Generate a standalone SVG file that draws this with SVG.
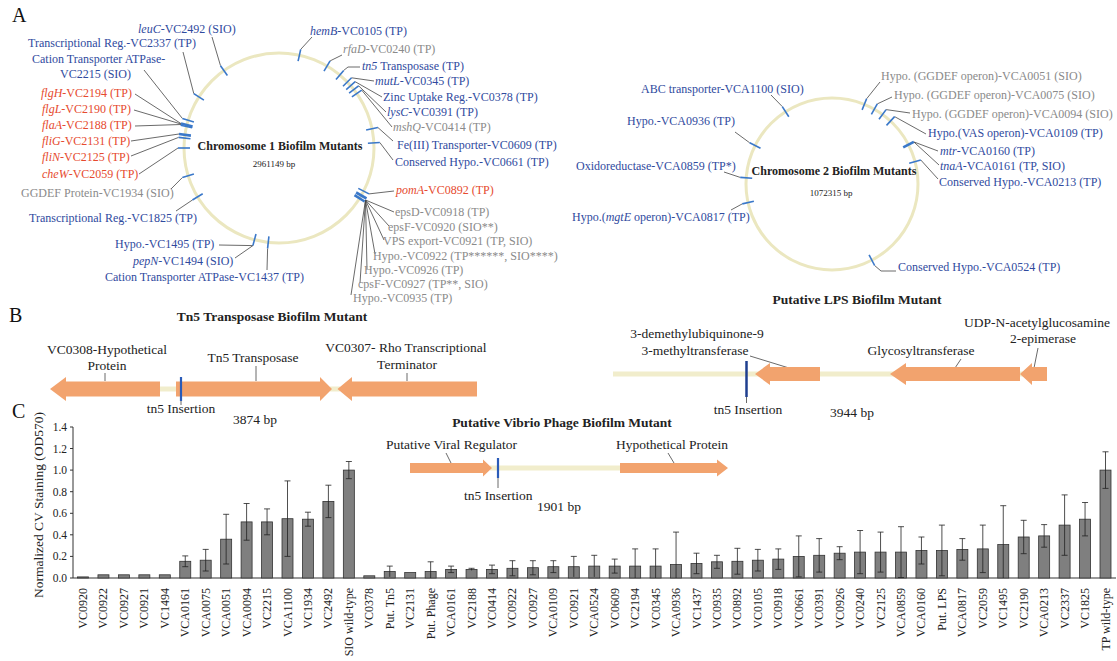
<svg xmlns="http://www.w3.org/2000/svg" width="1117" height="661" viewBox="0 0 1117 661">
<style>
text{font-family:"Liberation Serif","Times New Roman",serif;}
.l{font-size:12px}
.bl{fill:#2f4a9e}.rd{fill:#e64a2e}.gy{fill:#8a8a8a}.bk{fill:#222}
.i{font-style:italic}
.tk{stroke:#3a78c9;stroke-width:1.6;fill:none}
.tk2{stroke:#3a78c9;stroke-width:2.6;fill:none}
.ld{stroke:#444;stroke-width:0.8;fill:none}
.ring{fill:none;stroke:#ebe7c0;stroke-width:3}
.arw{fill:#f2a36e}
.bb{stroke:#f1edcc;stroke-width:5}
.ins{stroke:#2a5bb8;stroke-width:2.2}
.bar{fill:#7f7f7f;stroke:#333;stroke-width:0.8}
.eb{stroke:#222;stroke-width:0.8;fill:none}
.ax{stroke:#333;stroke-width:1;fill:none}
.xl{font-size:12px;fill:#222}
.m{font-size:13.5px;fill:#222}
.ttl{font-size:13.5px;font-weight:bold;fill:#222}
.pl{font-size:20px;fill:#111}
</style>
<rect width="1117" height="661" fill="#ffffff"/>

<!-- Panel letters -->
<text class="pl" x="12" y="22">A</text>
<text class="pl" x="9" y="322">B</text>
<text class="pl" x="12" y="418">C</text>

<!-- Chromosome 1 -->
<g id="chr1">
<circle class="ring" cx="279" cy="148" r="95"/>
<text x="280" y="150" text-anchor="middle" font-size="12" font-weight="bold" fill="#222">Chromosome 1 Biofilm Mutants</text>
<text x="274" y="167" text-anchor="middle" font-size="9" fill="#222">2961149 bp</text>
</g>

<g id="connectors">
<!-- chr1 left -->
<path class="ld" d="M220.5,65.7 L212,37"/>
<path class="ld" d="M193.8,93.7 L183,52"/>
<path class="ld" d="M182.4,118.5 L144,70"/>
<path class="ld" d="M181,123.6 L135,94"/>
<path class="ld" d="M181,124 L134,110"/>
<path class="ld" d="M181,124.5 L135,126"/>
<path class="ld" d="M179,134 L131,141"/>
<path class="ld" d="M178.6,137.4 L131,156"/>
<path class="ld" d="M178,148 L139,174"/>
<path class="ld" d="M182.4,177.5 L171,189"/>
<path class="ld" d="M192.4,200 L176,211"/>
<path class="ld" d="M252.9,245.6 L219,245"/>
<path class="ld" d="M252.9,245.6 L235,258"/>
<path class="ld" d="M267.6,248.4 L267,270"/>
<!-- chr1 right -->
<path class="ld" d="M300.7,49.4 L312,37"/>
<path class="ld" d="M330.1,60.9 L342,55"/>
<path class="ld" d="M343.7,70.4 L348,67 L360,67"/>
<path class="ld" d="M351.6,77.8 L374,81"/>
<path class="ld" d="M355.2,81.7 L382,97"/>
<path class="ld" d="M358.6,85.8 L386,112"/>
<path class="ld" d="M361.7,90.1 L392,127"/>
<path class="ld" d="M377.9,127.5 L393,141"/>
<path class="ld" d="M379.8,142.5 L393,160"/>
<path class="ld" d="M369,193.9 L394,191"/>
<path class="ld" d="M365.5,200 L394,212"/>
<path class="ld" d="M365.5,200 L389,226"/>
<path class="ld" d="M365.5,200 L384,240"/>
<path class="ld" d="M365.5,200 L375,254"/>
<path class="ld" d="M365.5,200 L367,269"/>
<path class="ld" d="M365.5,200 L360,283"/>
<path class="ld" d="M365.5,200 L351,295"/>
<!-- chr2 -->
<path class="ld" d="M782.3,106.6 L771,95"/>
<path class="ld" d="M749.7,142.8 L735,132"/>
<path class="ld" d="M740.2,177.4 L724,172"/>
<path class="ld" d="M742.2,203.9 L731,210"/>
<path class="ld" d="M866.6,98.8 L880,82"/>
<path class="ld" d="M877.3,103.9 L892,97"/>
<path class="ld" d="M886.1,109.6 L910,113"/>
<path class="ld" d="M894.6,116.6 L926,134"/>
<path class="ld" d="M913.8,141.9 L938,151"/>
<path class="ld" d="M913.8,141.9 L939,165"/>
<path class="ld" d="M920.8,160 L938,179"/>
<path class="ld" d="M874.6,265.5 L881,271 L896,271"/>
<!-- panel B/C gene leaders -->
<path class="ld" d="M105,373 V381"/>
<path class="ld" d="M256,366 V381"/>
<path class="ld" d="M407,373 V381"/>
<path class="ld" d="M181,401 V405"/>
<path class="ld" d="M750,356 L789,368"/>
<path class="ld" d="M961,359 L955,368"/>
<path class="ld" d="M1038,348 L1034,368"/>
<path class="ld" d="M746.5,397 V403"/>
<path class="ld" d="M446,453 L451,463"/>
<path class="ld" d="M668,453 L674,463"/>
<path class="ld" d="M498,478 V488"/>
</g>

<!-- chr1 left genes -->
<g id="leuC"><path class="tk" d="M227.4,75.5 L220.5,65.7"/><text class="l bl" x="138" y="33"><tspan class="i">leuC</tspan>-VC2492 (SIO)</text></g>
<g id="VC2337"><path class="tk" d="M203.9,100.2 L193.8,93.7"/><text class="l bl" x="28" y="47">Transcriptional Reg.-VC2337 (TP)</text></g>
<g id="VC2215"><path class="tk" d="M193.9,122 L182.4,118.5"/><text class="l bl" x="32" y="63">Cation Transporter ATPase-</text><text class="l bl" x="60" y="78">VC2215 (SIO)</text></g>
<g id="flgH"><path class="tk2" d="M192.6,126.5 L181,123.6"/><text class="l rd" x="41" y="97"><tspan class="i">flgH</tspan>-VC2194 (TP)</text></g>
<g id="flgL"><path class="tk" d="M192.2,127.8 L180.6,125.3"/><text class="l rd" x="42" y="113"><tspan class="i">flgL</tspan>-VC2190 (TP)</text></g>
<g id="flaA"><text class="l rd" x="42" y="129"><tspan class="i">flaA</tspan>-VC2188 (TP)</text></g>
<g id="fliG"><path class="tk2" d="M190.9,135.6 L179,134"/><text class="l rd" x="42" y="145"><tspan class="i">fliG</tspan>-VC2131 (TP)</text></g>
<g id="fliN"><path class="tk" d="M190.5,138.7 L178.6,137.4"/><text class="l rd" x="42" y="161"><tspan class="i">fliN</tspan>-VC2125 (TP)</text></g>
<g id="cheW"><path class="tk" d="M190,148 L178,148"/><text class="l rd" x="42" y="178"><tspan class="i">cheW</tspan>-VC2059 (TP)</text></g>
<g id="VC1934"><path class="tk" d="M193.9,174 L182.4,177.5"/><text class="l gy" x="21" y="197">GGDEF Protein-VC1934 (SIO)</text></g>
<g id="VC1825"><path class="tk" d="M202.7,193.8 L192.4,200"/><text class="l bl" x="29" y="222">Transcriptional Reg.-VC1825 (TP)</text></g>
<g id="VC1495"><path class="tk" d="M256,234 L252.9,245.6"/><text class="l bl" x="115" y="248">Hypo.-VC1495 (TP)</text></g>
<g id="pepN"><text class="l bl" x="133" y="265"><tspan class="i">pepN</tspan>-VC1494 (SIO)</text></g>
<g id="VC1437"><path class="tk" d="M268.9,236.4 L267.6,248.4"/><text class="l bl" x="105" y="281">Cation Transporter ATPase-VC1437 (TP)</text></g>

<!-- chr1 right genes -->
<g id="hemB"><path class="tk" d="M298.1,61.1 L300.7,49.4"/><text class="l bl" x="310" y="35"><tspan class="i">hemB</tspan>-VC0105 (TP)</text></g>
<g id="rfaD"><path class="tk" d="M324,71.2 L330.1,60.9"/><text class="l gy" x="343" y="53"><tspan class="i">rfaD</tspan>-VC0240 (TP)</text></g>
<g id="tn5"><path class="tk" d="M336,79.6 L343.7,70.4"/><text class="l bl" x="362" y="70"><tspan class="i">tn5</tspan> Transposase (TP)</text></g>
<g id="mutL"><path class="tk" d="M343,86.2 L351.6,77.8"/><text class="l bl" x="375" y="85"><tspan class="i">mutL</tspan>-VC0345 (TP)</text></g>
<g id="VC0378"><path class="tk" d="M346.2,89.6 L355.2,81.7"/><text class="l bl" x="383" y="101">Zinc Uptake Reg.-VC0378 (TP)</text></g>
<g id="lysC"><path class="tk" d="M349.1,93.2 L358.6,85.8"/><text class="l bl" x="387" y="116"><tspan class="i">lysC</tspan>-VC0391 (TP)</text></g>
<g id="mshQ"><path class="tk" d="M351.9,96.9 L361.7,90.1"/><text class="l gy" x="393" y="131"><tspan class="i">mshQ</tspan>-VC0414 (TP)</text></g>
<g id="VC0609"><path class="tk" d="M366.1,130 L377.9,127.5"/><text class="l bl" x="397" y="149">Fe(III) Transporter-VC0609 (TP)</text></g>
<g id="VC0661"><path class="tk" d="M367.9,143.2 L379.8,142.5"/><text class="l bl" x="395" y="166">Conserved Hypo.-VC0661 (TP)</text></g>
<g id="pomA"><path class="tk" d="M358.3,188.4 L369,193.9"/><text class="l rd" x="396" y="194"><tspan class="i">pomA</tspan>-VC0892 (TP)</text></g>
<g id="eps"><path class="tk2" d="M356.1,192.5 L366.5,198.5"/><path class="tk2" d="M354.5,195.2 L364.6,201.5"/>
<text class="l gy" x="395" y="216">epsD-VC0918 (TP)</text>
<text class="l gy" x="388" y="231">epsF-VC0920 (SIO**)</text>
<text class="l gy" x="383" y="245">VPS export-VC0921 (TP, SIO)</text>
<text class="l gy" x="373" y="260">Hypo.-VC0922 (TP******, SIO****)</text>
<text class="l gy" x="364" y="274">Hypo.-VC0926 (TP)</text>
<text class="l gy" x="358" y="288">cpsF-VC0927 (TP**, SIO)</text>
<text class="l gy" x="353" y="302">Hypo.-VC0935 (TP)</text></g>

<!-- Chromosome 2 -->
<g id="chr2">
<circle class="ring" cx="832" cy="184" r="86"/>
<text x="834" y="175" text-anchor="middle" font-size="12" font-weight="bold" fill="#222">Chromosome 2 Biofilm Mutants</text>
<text x="831" y="196" text-anchor="middle" font-size="9" fill="#222">1072315 bp</text>
</g>
<g id="VCA1100"><path class="tk" d="M788.8,116.7 L782.3,106.6"/><text class="l bl" x="641" y="93">ABC transporter-VCA1100 (SIO)</text></g>
<g id="VCA0936"><path class="tk" d="M760.5,148.2 L749.7,142.8"/><text class="l bl" x="627" y="125">Hypo.-VCA0936 (TP)</text></g>
<g id="VCA0859"><path class="tk" d="M752.2,178.3 L740.2,177.4"/><text class="l bl" x="576" y="170">Oxidoreductase-VCA0859 (TP*)</text></g>
<g id="VCA0817"><path class="tk" d="M753.9,201.3 L742.2,203.9"/><text class="l bl" x="572" y="221">Hypo.(<tspan class="i">mgtE</tspan> operon)-VCA0817 (TP)</text></g>
<g id="VCA0051"><path class="tk" d="M862.1,109.9 L866.6,98.8"/><text class="l gy" x="881" y="80">Hypo. (GGDEF operon)-VCA0051 (SIO)</text></g>
<g id="VCA0075"><path class="tk" d="M871.4,114.4 L877.3,103.9"/><text class="l gy" x="894" y="99">Hypo. (GGDEF operon)-VCA0075 (SIO)</text></g>
<g id="VCA0094"><path class="tk" d="M879,119.3 L886.1,109.6"/><text class="l gy" x="912" y="118">Hypo. (GGDEF operon)-VCA0094 (SIO)</text></g>
<g id="VCA0109"><path class="tk" d="M886.5,125.4 L894.6,116.6"/><text class="l bl" x="928" y="137">Hypo.(VAS operon)-VCA0109 (TP)</text></g>
<g id="mtr"><path class="tk2" d="M903.2,147.4 L913.8,141.9"/><text class="l bl" x="940" y="155"><tspan class="i">mtr</tspan>-VCA0160 (TP)</text></g>
<g id="tnaA"><text class="l bl" x="940" y="170"><tspan class="i">tnaA</tspan>-VCA0161 (TP, SIO)</text></g>
<g id="VCA0213"><path class="tk" d="M909.2,163.2 L920.8,160"/><text class="l bl" x="939" y="186">Conserved Hypo.-VCA0213 (TP)</text></g>
<g id="VCA0524"><path class="tk" d="M869.1,254.9 L874.6,265.5"/><text class="l bl" x="898" y="271">Conserved Hypo.-VCA0524 (TP)</text></g>

<!-- Panel B: Tn5 -->
<g id="tn5-map">
<text class="ttl" x="272" y="321" text-anchor="middle">Tn5 Transposase Biofilm Mutant</text>
<line class="bb" x1="158" y1="389" x2="178" y2="389"/>
<line class="bb" x1="330" y1="389" x2="340" y2="389"/>
<polygon class="arw" points="50,389 66,377 66,381.5 160,381.5 160,396.5 66,396.5 66,401"/>
<polygon class="arw" points="176,381.5 320,381.5 320,377 332,389 320,401 320,396.5 176,396.5"/>
<polygon class="arw" points="337.5,389 352,377 352,381.5 477,381.5 477,396.5 352,396.5 352,401"/>
<line class="ins" x1="181" y1="377" x2="181" y2="401"/>
<text class="m" x="107" y="354" text-anchor="middle">VC0308-Hypothetical</text>
<text class="m" x="107" y="370" text-anchor="middle">Protein</text>
<text class="m" x="253" y="362" text-anchor="middle">Tn5 Transposase</text>
<text class="m" x="406" y="352" text-anchor="middle">VC0307- Rho Transcriptional</text>
<text class="m" x="407" y="369" text-anchor="middle">Terminator</text>
<text class="m" x="181" y="413" text-anchor="middle">tn5 Insertion</text>
<text class="m" x="233" y="424">3874 bp</text>
</g>

<!-- Panel B: LPS -->
<g id="lps-map">
<text class="ttl" x="857" y="304" text-anchor="middle">Putative LPS Biofilm Mutant</text>
<line class="bb" x1="613" y1="374" x2="1047" y2="374"/>
<polygon class="arw" points="755,374 770,363 770,367 820,367 820,381 770,381 770,385"/>
<polygon class="arw" points="890,374 906,363 906,367 1020,367 1020,381 906,381 906,385"/>
<polygon class="arw" points="1020,374 1032,363 1032,367 1047,367 1047,381 1032,381 1032,385"/>
<line x1="746.5" y1="361" x2="746.5" y2="397" stroke="#1f3f8f" stroke-width="2.5"/>
<text class="m" x="1037" y="327" text-anchor="middle">UDP-N-acetylglucosamine</text>
<text class="m" x="1043" y="343" text-anchor="middle">2-epimerase</text>
<text class="m" x="697" y="338" text-anchor="middle">3-demethylubiquinone-9</text>
<text class="m" x="695" y="355" text-anchor="middle">3-methyltransferase</text>
<text class="m" x="921" y="355" text-anchor="middle">Glycosyltransferase</text>
<text class="m" x="748" y="414" text-anchor="middle">tn5 Insertion</text>
<text class="m" x="830" y="417">3944 bp</text>
</g>

<!-- Panel C: phage -->
<g id="phage-map">
<text class="ttl" x="562" y="427" text-anchor="middle">Putative Vibrio Phage Biofilm Mutant</text>
<line class="bb" x1="490" y1="468" x2="622" y2="468"/>
<polygon class="arw" points="410,463 483,463 483,459.5 492,468 483,476.5 483,473 410,473"/>
<polygon class="arw" points="620,463 717,463 717,459.5 728,468 717,476.5 717,473 620,473"/>
<line class="ins" x1="498" y1="458" x2="498" y2="478"/>
<text class="m" x="386" y="449">Putative Viral Regulator</text>
<text class="m" x="616" y="449">Hypothetical Protein</text>
<text class="m" x="464" y="500">tn5 Insertion</text>
<text class="m" x="537" y="511">1901 bp</text>
</g>

<!-- Panel C: chart -->
<g id="chart">
<text transform="translate(42.5,505) rotate(-90)" text-anchor="middle" font-size="13.5" fill="#222">Normalized CV Staining (OD570)</text>
<path class="ax" d="M73,427 V578 H1116"/>
<path class="ax" d="M70,578 H73 M70,556.4 H73 M70,534.8 H73 M70,513.3 H73 M70,491.7 H73 M70,470.1 H73 M70,448.5 H73 M70,427 H73"/>
<g font-size="11.5" fill="#222" text-anchor="end">
<text x="67" y="582">0.0</text><text x="67" y="560.4">0.2</text><text x="67" y="538.8">0.4</text><text x="67" y="517.3">0.6</text><text x="67" y="495.7">0.8</text><text x="67" y="474.1">1.0</text><text x="67" y="452.5">1.2</text><text x="67" y="431">1.4</text>
</g>
<g id="bars">
<rect class="bar" x="77.5" y="576.9" width="11" height="1.1"/>
<rect class="bar" x="97.95" y="574.8" width="11" height="3.2"/>
<rect class="bar" x="118.4" y="574.8" width="11" height="3.2"/>
<rect class="bar" x="138.85" y="574.8" width="11" height="3.2"/>
<rect class="bar" x="159.3" y="574.8" width="11" height="3.2"/>
<rect class="bar" x="179.75" y="561.3" width="11" height="16.7"/>
<rect class="bar" x="200.2" y="560.2" width="11" height="17.8"/>
<rect class="bar" x="220.65" y="539.2" width="11" height="38.8"/>
<rect class="bar" x="241.1" y="521.9" width="11" height="56.1"/>
<rect class="bar" x="261.55" y="521.9" width="11" height="56.1"/>
<rect class="bar" x="282" y="518.7" width="11" height="59.3"/>
<rect class="bar" x="302.45" y="519.2" width="11" height="58.8"/>
<rect class="bar" x="322.9" y="501.4" width="11" height="76.6"/>
<rect class="bar" x="343.35" y="470.1" width="11" height="107.9"/>
<rect class="bar" x="363.8" y="575.8" width="11" height="2.2"/>
<rect class="bar" x="384.25" y="571.5" width="11" height="6.5"/>
<rect class="bar" x="404.7" y="572.6" width="11" height="5.4"/>
<rect class="bar" x="425.15" y="571.5" width="11" height="6.5"/>
<rect class="bar" x="445.6" y="569.4" width="11" height="8.6"/>
<rect class="bar" x="466.05" y="569.4" width="11" height="8.6"/>
<rect class="bar" x="486.5" y="569.4" width="11" height="8.6"/>
<rect class="bar" x="506.95" y="568.3" width="11" height="9.7"/>
<rect class="bar" x="527.4" y="567.7" width="11" height="10.3"/>
<rect class="bar" x="547.85" y="566.7" width="11" height="11.3"/>
<rect class="bar" x="568.3" y="566.7" width="11" height="11.3"/>
<rect class="bar" x="588.75" y="566.1" width="11" height="11.9"/>
<rect class="bar" x="609.2" y="566.1" width="11" height="11.9"/>
<rect class="bar" x="629.65" y="566.1" width="11" height="11.9"/>
<rect class="bar" x="650.1" y="566.1" width="11" height="11.9"/>
<rect class="bar" x="670.55" y="564.5" width="11" height="13.5"/>
<rect class="bar" x="691" y="563.4" width="11" height="14.6"/>
<rect class="bar" x="711.45" y="561.8" width="11" height="16.2"/>
<rect class="bar" x="731.9" y="561.3" width="11" height="16.7"/>
<rect class="bar" x="752.35" y="560.2" width="11" height="17.8"/>
<rect class="bar" x="772.8" y="559.1" width="11" height="18.9"/>
<rect class="bar" x="793.25" y="556.4" width="11" height="21.6"/>
<rect class="bar" x="813.7" y="555.3" width="11" height="22.7"/>
<rect class="bar" x="834.15" y="553.2" width="11" height="24.8"/>
<rect class="bar" x="854.6" y="552.1" width="11" height="25.9"/>
<rect class="bar" x="875.05" y="552.1" width="11" height="25.9"/>
<rect class="bar" x="895.5" y="552.1" width="11" height="25.9"/>
<rect class="bar" x="915.95" y="550.5" width="11" height="27.5"/>
<rect class="bar" x="936.4" y="550.5" width="11" height="27.5"/>
<rect class="bar" x="956.85" y="549.4" width="11" height="28.6"/>
<rect class="bar" x="977.3" y="548.9" width="11" height="29.1"/>
<rect class="bar" x="997.75" y="544.6" width="11" height="33.4"/>
<rect class="bar" x="1018.2" y="537" width="11" height="41"/>
<rect class="bar" x="1038.65" y="535.9" width="11" height="42.1"/>
<rect class="bar" x="1059.1" y="525.1" width="11" height="52.9"/>
<rect class="bar" x="1079.55" y="519.2" width="11" height="58.8"/>
<rect class="bar" x="1100" y="470.1" width="11" height="107.9"/>
</g>
<path class="eb" d="
M185.25,555.9V566.7M182.25,555.9H188.25M182.25,566.7H188.25
M205.7,549.4V571M202.7,549.4H208.7M202.7,571H208.7
M226.15,514.3V564M223.15,514.3H229.15M223.15,564H229.15
M246.6,503.5V540.2M243.6,503.5H249.6M243.6,540.2H249.6
M267.05,508.9V534.8M264.05,508.9H270.05M264.05,534.8H270.05
M287.5,480.9V556.4M284.5,480.9H290.5M284.5,556.4H290.5
M307.95,512.2V526.2M304.95,512.2H310.95M304.95,526.2H310.95
M328.4,485.2V517.6M325.4,485.2H331.4M325.4,517.6H331.4
M348.85,461.5V478.7M345.85,461.5H351.85M345.85,478.7H351.85
M389.75,566.1V576.9M386.75,566.1H392.75
M430.65,561.8V578M427.65,561.8H433.65
M451.1,566.1V572.6M448.1,566.1H454.1M448.1,572.6H454.1
M471.55,568.3V570.4M468.55,568.3H474.55
M492,565.1V573.7M489,565.1H495M489,573.7H495
M512.45,560.7V575.8M509.45,560.7H515.45M509.45,575.8H515.45
M532.9,560.7V574.8M529.9,560.7H535.9M529.9,574.8H535.9
M553.35,560.7V572.6M550.35,560.7H556.35M550.35,572.6H556.35
M573.8,556.4V576.9M570.8,556.4H576.8
M594.25,555.3V576.9M591.25,555.3H597.25
M614.7,559.1V573.1M611.7,559.1H617.7M611.7,573.1H617.7
M635.15,548.9V578M632.15,548.9H638.15
M655.6,548.9V578M652.6,548.9H658.6
M676.05,532.1V578M673.05,532.1H679.05
M696.5,553.2V573.7M693.5,553.2H699.5M693.5,573.7H699.5
M716.95,555.3V568.3M713.95,555.3H719.95M713.95,568.3H719.95
M737.4,548.3V574.2M734.4,548.3H740.4M734.4,574.2H740.4
M757.85,549.4V571M754.85,549.4H760.85M754.85,571H760.85
M778.3,548.9V569.4M775.3,548.9H781.3M775.3,569.4H781.3
M798.75,535.9V576.9M795.75,535.9H801.75M795.75,576.9H801.75
M819.2,538.6V572.1M816.2,538.6H822.2M816.2,572.1H822.2
M839.65,546.7V559.7M836.65,546.7H842.65M836.65,559.7H842.65
M860.1,530.5V573.7M857.1,530.5H863.1M857.1,573.7H863.1
M880.55,532.1V572.1M877.55,532.1H883.55M877.55,572.1H883.55
M901,526.7V577.5M898,526.7H904M898,577.5H904
M921.45,537V564M918.45,537H924.45M918.45,564H924.45
M941.9,525.1V575.8M938.9,525.1H944.9M938.9,575.8H944.9
M962.35,538.6V560.2M959.35,538.6H965.35M959.35,560.2H965.35
M982.8,525.1V572.6M979.8,525.1H985.8M979.8,572.6H985.8
M1003.25,505.7V578M1000.25,505.7H1006.25
M1023.7,520.3V553.7M1020.7,520.3H1026.7M1020.7,553.7H1026.7
M1044.15,524.6V547.2M1041.15,524.6H1047.15M1041.15,547.2H1047.15
M1064.6,494.9V555.3M1061.6,494.9H1067.6M1061.6,555.3H1067.6
M1085.05,502.5V535.9M1082.05,502.5H1088.05M1082.05,535.9H1088.05
M1105.5,451.8V488.4M1102.5,451.8H1108.5M1102.5,488.4H1108.5"/>
<g class="xl" text-anchor="end">
<text transform="translate(87,588) rotate(-90)">VC0920</text>
<text transform="translate(107.45,588) rotate(-90)">VC0922</text>
<text transform="translate(127.9,588) rotate(-90)">VC0927</text>
<text transform="translate(148.35,588) rotate(-90)">VC0921</text>
<text transform="translate(168.8,588) rotate(-90)">VC1494</text>
<text transform="translate(189.25,588) rotate(-90)">VCA0161</text>
<text transform="translate(209.7,588) rotate(-90)">VCA0075</text>
<text transform="translate(230.15,588) rotate(-90)">VCA0051</text>
<text transform="translate(250.6,588) rotate(-90)">VCA0094</text>
<text transform="translate(271.05,588) rotate(-90)">VC2215</text>
<text transform="translate(291.5,588) rotate(-90)">VCA1100</text>
<text transform="translate(311.95,588) rotate(-90)">VC1934</text>
<text transform="translate(332.4,588) rotate(-90)">VC2492</text>
<text transform="translate(352.85,588) rotate(-90)">SIO wild-type</text>
<text transform="translate(373.3,588) rotate(-90)">VC0378</text>
<text transform="translate(393.75,588) rotate(-90)">Put. Tn5</text>
<text transform="translate(414.2,588) rotate(-90)">VC2131</text>
<text transform="translate(434.65,588) rotate(-90)">Put. Phage</text>
<text transform="translate(455.1,588) rotate(-90)">VCA0161</text>
<text transform="translate(475.55,588) rotate(-90)">VC2188</text>
<text transform="translate(496,588) rotate(-90)">VC0414</text>
<text transform="translate(516.45,588) rotate(-90)">VC0922</text>
<text transform="translate(536.9,588) rotate(-90)">VC0927</text>
<text transform="translate(557.35,588) rotate(-90)">VCA0109</text>
<text transform="translate(577.8,588) rotate(-90)">VC0921</text>
<text transform="translate(598.25,588) rotate(-90)">VCA0524</text>
<text transform="translate(618.7,588) rotate(-90)">VC0609</text>
<text transform="translate(639.15,588) rotate(-90)">VC2194</text>
<text transform="translate(659.6,588) rotate(-90)">VC0345</text>
<text transform="translate(680.05,588) rotate(-90)">VCA0936</text>
<text transform="translate(700.5,588) rotate(-90)">VC1437</text>
<text transform="translate(720.95,588) rotate(-90)">VC0935</text>
<text transform="translate(741.4,588) rotate(-90)">VC0892</text>
<text transform="translate(761.85,588) rotate(-90)">VC0105</text>
<text transform="translate(782.3,588) rotate(-90)">VC0918</text>
<text transform="translate(802.75,588) rotate(-90)">VC0661</text>
<text transform="translate(823.2,588) rotate(-90)">VC0391</text>
<text transform="translate(843.65,588) rotate(-90)">VC0926</text>
<text transform="translate(864.1,588) rotate(-90)">VC0240</text>
<text transform="translate(884.55,588) rotate(-90)">VC2125</text>
<text transform="translate(905,588) rotate(-90)">VCA0859</text>
<text transform="translate(925.45,588) rotate(-90)">VCA0160</text>
<text transform="translate(945.9,588) rotate(-90)">Put. LPS</text>
<text transform="translate(966.35,588) rotate(-90)">VCA0817</text>
<text transform="translate(986.8,588) rotate(-90)">VC2059</text>
<text transform="translate(1007.25,588) rotate(-90)">VC1495</text>
<text transform="translate(1027.7,588) rotate(-90)">VC2190</text>
<text transform="translate(1048.15,588) rotate(-90)">VCA0213</text>
<text transform="translate(1068.6,588) rotate(-90)">VC2337</text>
<text transform="translate(1089.05,588) rotate(-90)">VC1825</text>
<text transform="translate(1109.5,588) rotate(-90)">TP wild-type</text>
</g>
</g>
</svg>
